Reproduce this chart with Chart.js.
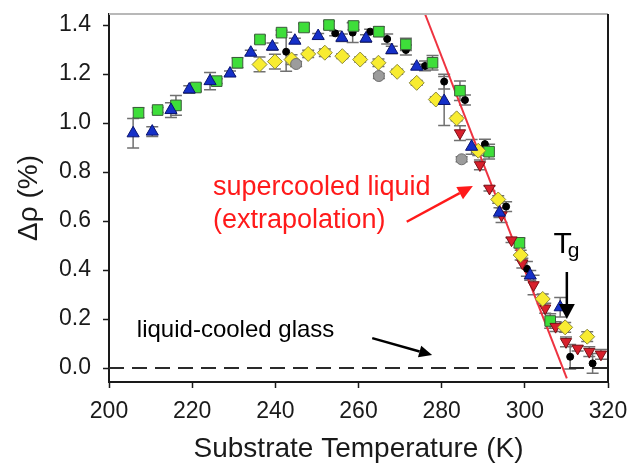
<!DOCTYPE html>
<html>
<head>
<meta charset="utf-8">
<script src="https://cdn.jsdelivr.net/npm/chart.js@4/dist/chart.umd.min.js"></script>
<style>
  body { margin: 0; background: #fff; }
  #wrap { width: 633px; height: 472px; }
</style>
</head>
<body>
<div id="wrap"><canvas id="densityChart" width="633" height="472"></canvas></div>
<script>
// Density change vs substrate temperature

// Green squares
const greenT   = [207.1, 211.7, 216.1, 220.9, 225.9, 230.9, 236.3, 241.5, 246.9, 252.9, 258.8, 264.9, 271.4, 277.8, 284.4, 291.4, 298.7, 306.1];
const greenRho = [1.042, 1.053, 1.072, 1.145, 1.171, 1.246, 1.341, 1.369, 1.390, 1.400, 1.396, 1.373, 1.321, 1.246, 1.132, 0.883, 0.511, 0.192];
const greenErr = [0.02, 0.01, 0.04, 0.015, 0.01, 0.02, 0.015, 0.01, 0.015, 0.015, 0.015, 0.02, 0.025, 0.03, 0.04, 0.03, 0.02, 0.03];

// Blue triangles
const blueT   = [205.8, 210.4, 214.9, 219.3, 224.3, 229.1, 234.1, 239.3, 244.7, 250.3, 256.0, 261.8, 268.0, 274.0, 280.6, 287.2, 293.9, 301.3, 308.5];
const blueRho = [0.958, 0.965, 1.053, 1.137, 1.171, 1.202, 1.287, 1.312, 1.336, 1.355, 1.348, 1.345, 1.298, 1.230, 1.090, 0.903, 0.634, 0.378, 0.248];
const blueErr = [0.06, 0.02, 0.03, 0.015, 0.035, 0.01, 0.01, 0.015, 0.01, 0.01, 0.015, 0.015, 0.015, 0.01, 0.1, 0.03, 0.02, 0.02, 0.04];

// Yellow diamonds
const yellowT   = [236.2, 239.9, 243.9, 247.9, 251.9, 256.1, 260.4, 264.8, 269.3, 274.0, 278.6, 283.6, 288.8, 293.6, 299.0, 304.3, 309.7, 315.0];
const yellowRho = [1.239, 1.251, 1.259, 1.282, 1.287, 1.273, 1.259, 1.246, 1.209, 1.164, 1.096, 1.019, 0.887, 0.688, 0.461, 0.282, 0.166, 0.128];
const yellowErr = [0.03, 0.03, 0.02, 0.015, 0.015, 0.01, 0.01, 0.015, 0.01, 0.01, 0.01, 0.01, 0.02, 0.015, 0.02, 0.02, 0.02, 0.02];

// Black circles
const blackT   = [242.6, 254.4, 258.6, 262.8, 266.9, 271.4, 276.0, 280.6, 285.6, 290.4, 295.5, 300.5, 310.9, 316.3];
const blackRho = [1.291, 1.366, 1.369, 1.373, 1.343, 1.298, 1.233, 1.169, 1.094, 0.914, 0.659, 0.405, 0.046, 0.019];
const blackErr = [0.08, 0.01, 0.04, 0.01, 0.02, 0.02, 0.02, 0.03, 0.02, 0.02, 0.02, 0.03, 0.05, 0.04];

// Red down-triangles
const redT   = [284.4, 289.2, 291.5, 294.4, 296.8, 299.4, 302.1, 304.9, 307.4, 309.9, 312.7, 315.5, 318.3];
const redRho = [0.959, 0.829, 0.733, 0.624, 0.522, 0.428, 0.339, 0.244, 0.169, 0.107, 0.080, 0.067, 0.056];
const redErr = [0.03, 0.02, 0.01, 0.03, 0.01, 0.02, 0.04, 0.02, 0.02, 0.02, 0.01, 0.02, 0.02];

// Gray circles
const grayT   = [245.0, 264.9, 284.8];
const grayRho = [1.241, 1.192, 0.852];
const grayErr = [0.01, 0.01, 0.01];

// Supercooled liquid extrapolation and liquid-cooled glass reference
const lineT   = [276.0, 310.1];
const lineRho = [1.445, -0.042];
const glassT   = [200, 320];
const glassRho = [0, 0];

// Axis ticks
const xTicks = [200, 220, 240, 260, 280, 300, 320];
const yTicks = [0.0, 0.2, 0.4, 0.6, 0.8, 1.0, 1.2, 1.4];

const FONT = "'Liberation Sans', Arial, sans-serif";

function toPoints(xs, ys, errs) {
    return xs.map(function(x, i) {
        return { x: x, y: ys[i], err: errs ? errs[i] : 0 };
    });
}

function markers(label, xs, ys, errs, style) {
    return Object.assign({
        label: label,
        data: toPoints(xs, ys, errs),
        showLine: false,
        borderWidth: 1,
        hasErr: true
    }, style);
}

// Error bars drawn under the markers
const errorBars = {
    id: 'errorBars',
    beforeDatasetsDraw(chart) {
        const ctx = chart.ctx;
        const xs = chart.scales.x, ys = chart.scales.y;
        ctx.save();
        ctx.strokeStyle = '#707070';
        ctx.lineWidth = 1.5;
        chart.data.datasets.forEach(function(ds) {
            if (!ds.hasErr) return;
            ds.data.forEach(function(p) {
                if (!p.err) return;
                const px = xs.getPixelForValue(p.x);
                const top = ys.getPixelForValue(p.y + p.err);
                const bot = ys.getPixelForValue(p.y - p.err);
                ctx.beginPath();
                ctx.moveTo(px, top); ctx.lineTo(px, bot);
                ctx.moveTo(px - 6, top); ctx.lineTo(px + 6, top);
                ctx.moveTo(px - 6, bot); ctx.lineTo(px + 6, bot);
                ctx.stroke();
            });
        });
        ctx.restore();
    }
};

function arrow(ctx, x1, y1, x2, y2, color, head, half) {
    const a = Math.atan2(y2 - y1, x2 - x1);
    ctx.strokeStyle = color;
    ctx.fillStyle = color;
    ctx.lineWidth = 2.5;
    ctx.beginPath();
    ctx.moveTo(x1, y1);
    ctx.lineTo(x2 - head * Math.cos(a), y2 - head * Math.sin(a));
    ctx.stroke();
    ctx.beginPath();
    ctx.moveTo(x2, y2);
    ctx.lineTo(x2 - head * Math.cos(a) + half * Math.sin(a), y2 - head * Math.sin(a) - half * Math.cos(a));
    ctx.lineTo(x2 - head * Math.cos(a) - half * Math.sin(a), y2 - head * Math.sin(a) + half * Math.cos(a));
    ctx.closePath();
    ctx.fill();
}

// Frame and annotations
const annotations = {
    id: 'annotations',
    afterDraw(chart) {
        const ctx = chart.ctx;
        const a = chart.chartArea;
        const X = v => chart.scales.x.getPixelForValue(v);
        const Y = v => chart.scales.y.getPixelForValue(v);
        ctx.save();

        // top and right border
        ctx.lineWidth = 2;
        ctx.strokeStyle = '#b8b8b8';
        ctx.beginPath(); ctx.moveTo(a.left, a.top); ctx.lineTo(a.right, a.top); ctx.stroke();
        ctx.strokeStyle = '#1a1a1a';
        ctx.beginPath(); ctx.moveTo(a.right, a.top); ctx.lineTo(a.right, a.bottom + 1); ctx.stroke();

        ctx.textBaseline = 'middle';
        ctx.textAlign = 'left';

        // supercooled liquid label
        ctx.fillStyle = '#ff1a1a';
        ctx.font = '27px ' + FONT;
        ctx.fillText('supercooled liquid', X(225.0), Y(0.735));
        ctx.fillText('(extrapolation)', X(225.0), Y(0.604));
        arrow(ctx, X(271.6), Y(0.597), X(287.5), Y(0.743), '#ff1a1a', 15, 7);

        // Tg label
        ctx.fillStyle = '#000';
        ctx.font = '30px ' + FONT;
        ctx.textBaseline = 'alphabetic';
        ctx.fillText('T', X(306.9), Y(0.469));
        ctx.font = '21px ' + FONT;
        ctx.fillText('g', X(310.3), Y(0.452));
        arrow(ctx, X(310.1), Y(0.392), X(310.1), Y(0.200), '#000', 15, 8);

        // liquid-cooled glass label
        ctx.textBaseline = 'middle';
        ctx.font = '24px ' + FONT;
        ctx.fillText('liquid-cooled glass', X(206.7), Y(0.155));
        arrow(ctx, X(263.3), Y(0.122), X(277.7), Y(0.053), '#000', 13, 6);

        ctx.restore();
    }
};

const ctx = document.getElementById('densityChart').getContext('2d');
new Chart(ctx, {
    type: 'scatter',
    data: {
        datasets: [
            {
                label: 'liquid-cooled glass',
                data: toPoints(glassT, glassRho),
                showLine: true,
                borderColor: '#2a2a2a',
                borderWidth: 2,
                borderDash: [15, 8],
                pointRadius: 0
            },
            markers('gray', grayT, grayRho, grayErr, {
                pointStyle: 'circle', pointRadius: 5.5,
                backgroundColor: '#9c9c9c', borderColor: '#6e6e6e'
            }),
            markers('blue', blueT, blueRho, blueErr, {
                pointStyle: 'triangle', pointRadius: 7,
                backgroundColor: '#1530c8', borderColor: '#0a1470'
            }),
            markers('yellow', yellowT, yellowRho, yellowErr, {
                pointStyle: 'rectRot', pointRadius: 7.5,
                backgroundColor: '#f8ec30', borderColor: '#8c8a3a'
            }),
            markers('red', redT, redRho, redErr, {
                pointStyle: 'triangle', rotation: 180, pointRadius: 6.5,
                backgroundColor: '#d8202c', borderColor: '#7a1016'
            }),
            markers('green', greenT, greenRho, greenErr, {
                pointStyle: 'rect', pointRadius: 7.5,
                backgroundColor: '#3ede3a', borderColor: '#3a5a3a'
            }),
            markers('black', blackT, blackRho, blackErr, {
                pointStyle: 'circle', pointRadius: 3.5,
                backgroundColor: '#000', borderColor: '#000'
            }),
            {
                label: 'supercooled liquid',
                data: toPoints(lineT, lineRho),
                showLine: true,
                borderColor: '#ee3340',
                borderWidth: 2,
                pointRadius: 0
            }
        ]
    },
    options: {
        responsive: false,
        animation: false,
        devicePixelRatio: 1,
        layout: { padding: { left: 0, top: 14, right: 25, bottom: 0 } },
        plugins: {
            legend: { display: false },
            tooltip: { enabled: false }
        },
        scales: {
            x: {
                type: 'linear',
                min: 200,
                max: 320,
                afterFit: s => { s.height = 90; s.paddingLeft = 0; s.paddingRight = 0; },
                afterBuildTicks: s => { s.ticks = xTicks.map(v => ({ value: v })); },
                grid: { drawOnChartArea: false, tickLength: 6, tickColor: '#1a1a1a', tickWidth: 1.5 },
                border: { color: '#1a1a1a', width: 2 },
                ticks: { color: '#1a1a1a', font: { family: FONT, size: 23 }, padding: 10, maxRotation: 0 },
                title: {
                    display: true,
                    text: 'Substrate Temperature (K)',
                    color: '#1a1a1a',
                    font: { family: FONT, size: 28 },
                    padding: { top: 0, bottom: 6 }
                }
            },
            y: {
                type: 'linear',
                min: -0.057,
                max: 1.445,
                afterFit: s => { s.width = 109; s.paddingTop = 0; s.paddingBottom = 0; },
                afterBuildTicks: s => { s.ticks = yTicks.map(v => ({ value: v })); },
                grid: { drawOnChartArea: false, tickLength: 6, tickColor: '#1a1a1a', tickWidth: 1.5 },
                border: { color: '#1a1a1a', width: 2 },
                ticks: {
                    color: '#1a1a1a',
                    font: { family: FONT, size: 23 },
                    padding: 12,
                    callback: v => v.toFixed(1)
                },
                title: {
                    display: true,
                    text: 'Δρ (%)',
                    color: '#1a1a1a',
                    font: { family: FONT, size: 28 },
                    padding: { top: 12, bottom: 0 }
                }
            }
        }
    },
    plugins: [errorBars, annotations]
});
</script>
</body>
</html>
